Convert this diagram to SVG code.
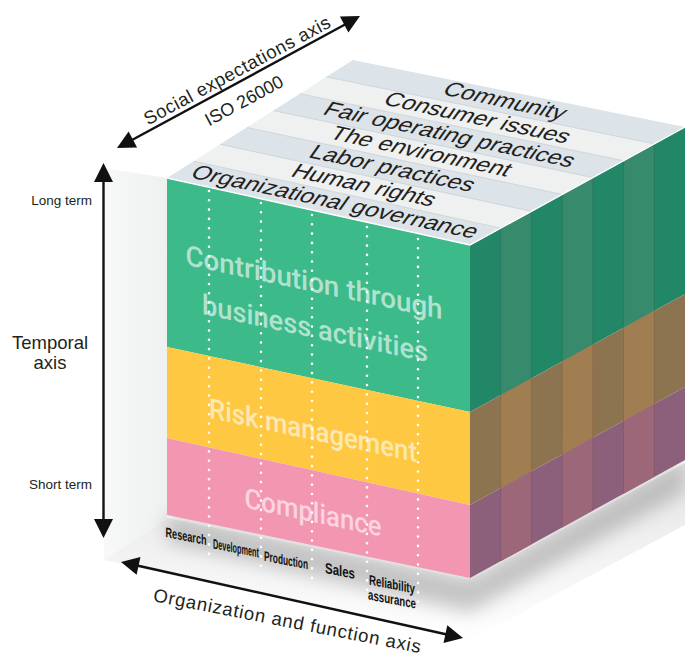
<svg xmlns="http://www.w3.org/2000/svg" width="685" height="656" viewBox="0 0 685 656">
<defs>
<style>
.ax{stroke:#111;stroke-width:2.4;fill:none}
.ah{fill:#111}
.lbl{font-family:"Liberation Sans",Arial,sans-serif;fill:#231f20}
.top{font-family:"Liberation Sans",Arial,sans-serif;font-size:18px;fill:#231f20;text-anchor:middle}
.big{font-family:Roboto,"Liberation Sans",sans-serif;font-weight:500;font-size:28px;fill:#fff;fill-opacity:0.6;text-anchor:middle}
.fl{font-family:"Liberation Sans",Arial,sans-serif;font-size:14px;font-weight:bold;fill:#111;text-anchor:middle}
.dots{stroke:#fff;stroke-width:2.6;stroke-linecap:round;stroke-dasharray:0 9.3;fill:none}
.s1{fill:#dde4e9}.s2{fill:#eff0f0}
.sep{stroke:#c3cace;stroke-width:0.7;fill:none}
</style>
<linearGradient id="floorG" x1="0" y1="0" x2="0" y2="1">
<stop offset="0" stop-color="#e4e4e4"/><stop offset="1" stop-color="#ffffff"/>
</linearGradient>
<linearGradient id="wallG" x1="0" y1="0" x2="1" y2="0">
<stop offset="0" stop-color="#f7f8f8"/><stop offset="1" stop-color="#eff1f1"/>
</linearGradient>
<filter id="blur" x="-20%" y="-50%" width="140%" height="200%"><feGaussianBlur stdDeviation="9"/></filter>
</defs>

<g id="backdrop">
<polygon points="104,168 167,178 167,518 104,560" fill="url(#wallG)"/>
<polygon points="104,560 167,518 470,580 685,463 685,525 470,640" fill="url(#floorG)"/>
<polygon points="167,515 470,578 685,460 685,492 470,612 167,542" fill="#9a9a9a" opacity="0.55" filter="url(#blur)"/>
</g>

<g id="front-face">
<g id="band-contribution"><polygon points="167,178 470,245 470,412 167,347" fill="#3dba8a"/></g>
<g id="band-risk"><polygon points="167,347 470,412 470,505 167,438" fill="#fec843"/></g>
<g id="band-compliance"><polygon points="167,438 470,505 470,578 167,515" fill="#f396b1"/></g>
</g>

<g id="side-face">
<polygon points="470,245 685,127 685,294 470,412" fill="#228767"/>
<polygon points="470,412 685,294 685,387 470,505" fill="#8d7450"/>
<polygon points="470,505 685,387 685,460 470,578" fill="#8c5f7a"/>
<g fill="#378b6c">
<polygon points="500.71,228.14 531.43,211.29 531.43,378.29 500.71,395.14"/>
<polygon points="562.14,194.43 592.86,177.57 592.86,344.57 562.14,361.43"/>
<polygon points="623.57,160.71 654.29,143.86 654.29,310.86 623.57,327.71"/>
</g>
<g fill="#a17d52">
<polygon points="500.71,395.14 531.43,378.29 531.43,471.29 500.71,488.14"/>
<polygon points="562.14,361.43 592.86,344.57 592.86,437.57 562.14,454.43"/>
<polygon points="623.57,327.71 654.29,310.86 654.29,403.86 623.57,420.71"/>
</g>
<g fill="#9d677a">
<polygon points="500.71,488.14 531.43,471.29 531.43,544.29 500.71,561.14"/>
<polygon points="562.14,454.43 592.86,437.57 592.86,510.57 562.14,527.43"/>
<polygon points="623.57,420.71 654.29,403.86 654.29,476.86 623.57,493.71"/>
</g>
<g stroke="#000" stroke-opacity="0.12" stroke-width="0.8">
<line x1="500.71" y1="228.14" x2="500.71" y2="561.14"/>
<line x1="531.43" y1="211.29" x2="531.43" y2="544.29"/>
<line x1="562.14" y1="194.43" x2="562.14" y2="527.43"/>
<line x1="592.86" y1="177.57" x2="592.86" y2="510.57"/>
<line x1="623.57" y1="160.71" x2="623.57" y2="493.71"/>
<line x1="654.29" y1="143.86" x2="654.29" y2="476.86"/>
</g>
</g>

<g id="top-face">
<polygon class="s1" points="167,178 470,245 500.71,228.14 193.57,161.14"/>
<polygon class="s2" points="193.57,161.14 500.71,228.14 531.43,211.29 220.14,144.29"/>
<polygon class="s1" points="220.14,144.29 531.43,211.29 562.14,194.43 246.71,127.43"/>
<polygon class="s2" points="246.71,127.43 562.14,194.43 592.86,177.57 273.29,110.57"/>
<polygon class="s1" points="273.29,110.57 592.86,177.57 623.57,160.71 299.86,93.71"/>
<polygon class="s2" points="299.86,93.71 623.57,160.71 654.29,143.86 326.43,76.86"/>
<polygon class="s1" points="326.43,76.86 654.29,143.86 685,127 353,60"/>
<g class="sep">
<line x1="193.57" y1="161.14" x2="500.71" y2="228.14"/>
<line x1="220.14" y1="144.29" x2="531.43" y2="211.29"/>
<line x1="246.71" y1="127.43" x2="562.14" y2="194.43"/>
<line x1="273.29" y1="110.57" x2="592.86" y2="177.57"/>
<line x1="299.86" y1="93.71" x2="623.57" y2="160.71"/>
<line x1="326.43" y1="76.86" x2="654.29" y2="143.86"/>
</g>
<polyline points="167,178 470,245 685,127" fill="none" stroke="#fff" stroke-width="1.3"/>
</g>

<g id="top-labels">
<g id="node-org-gov"><text class="top" transform="translate(331,208) matrix(1.32,0.285,-0.72,1.02,0,0)">Organizational governance</text></g>
<g id="node-human-rights"><text class="top" transform="translate(360,191.2) matrix(1.32,0.285,-0.72,1.02,0,0)">Human rights</text></g>
<g id="node-labor"><text class="top" transform="translate(388.5,174.4) matrix(1.32,0.285,-0.72,1.02,0,0)">Labor practices</text></g>
<g id="node-environment"><text class="top" transform="translate(417,157.5) matrix(1.32,0.285,-0.72,1.02,0,0)">The environment</text></g>
<g id="node-fair"><text class="top" transform="translate(445.5,140.7) matrix(1.32,0.285,-0.72,1.02,0,0)">Fair operating practices</text></g>
<g id="node-consumer"><text class="top" transform="translate(473.5,123.8) matrix(1.32,0.285,-0.72,1.02,0,0)">Consumer issues</text></g>
<g id="node-community"><text class="top" transform="translate(501,107) matrix(1.32,0.285,-0.72,1.02,0,0)">Community</text></g>
</g>

<g id="front-labels">
<text class="big" transform="translate(314,292) skewY(12)" textLength="257" lengthAdjust="spacingAndGlyphs">Contribution through</text>
<text class="big" transform="translate(315,338) skewY(12)" textLength="226" lengthAdjust="spacingAndGlyphs">business activities</text>
<text class="big" transform="translate(313,440) skewY(12)" textLength="208" lengthAdjust="spacingAndGlyphs">Risk management</text>
<text class="big" transform="translate(313,522) skewY(12)" textLength="137" lengthAdjust="spacingAndGlyphs">Compliance</text>
</g>

<g id="function-dividers">
<line class="dots" x1="209" y1="191" x2="209" y2="557"/>
<line class="dots" x1="261" y1="203" x2="261" y2="570"/>
<line class="dots" x1="312" y1="215" x2="312" y2="580"/>
<line class="dots" x1="367" y1="227" x2="367" y2="591"/>
<line class="dots" x1="418" y1="239" x2="418" y2="606"/>
</g>

<g id="function-labels">
<g id="node-research"><text class="fl" transform="translate(186,541) skewY(11)" textLength="41" lengthAdjust="spacingAndGlyphs">Research</text></g>
<g id="node-development"><text class="fl" transform="translate(236,553) skewY(11)" textLength="46" lengthAdjust="spacingAndGlyphs">Development</text></g>
<g id="node-production"><text class="fl" transform="translate(286,565) skewY(11)" textLength="44" lengthAdjust="spacingAndGlyphs">Production</text></g>
<g id="node-sales"><text class="fl" transform="translate(340,576) skewY(11)" textLength="30" lengthAdjust="spacingAndGlyphs" style="font-size:15px">Sales</text></g>
<g id="node-reliability"><text class="fl" transform="translate(392,589) skewY(11)" textLength="46" lengthAdjust="spacingAndGlyphs">Reliability</text>
<text class="fl" transform="translate(392,604) skewY(11)" textLength="48" lengthAdjust="spacingAndGlyphs">assurance</text></g>
</g>

<g id="connectors">
<line class="ax" x1="103.5" y1="178" x2="103.5" y2="523"/>
<polygon class="ah" points="103.5,163 94,182 113,182"/>
<polygon class="ah" points="103.5,538 94,519 113,519"/>
<line class="ax" x1="132" y1="140" x2="345" y2="24.5"/>
<polygon class="ah" points="117,148 137.1,147.4 128.6,131.6"/>
<polygon class="ah" points="360,16 348.4,32.4 339.9,16.6"/>
<line class="ax" x1="137" y1="565.5" x2="447" y2="634.5"/>
<polygon class="ah" points="121,562 136.6,574.7 140.5,557.1"/>
<polygon class="ah" points="463,638 443.5,642.9 447.3,625.3"/>
</g>

<g id="axis-labels">
<text class="lbl" x="92" y="205" text-anchor="end" font-size="13.5">Long term</text>
<text class="lbl" x="92" y="489" text-anchor="end" font-size="13.5">Short term</text>
<text class="lbl" x="50" y="349" text-anchor="middle" font-size="18.5">Temporal</text>
<text class="lbl" x="50" y="369" text-anchor="middle" font-size="18.5">axis</text>
<text class="lbl" transform="translate(240,76) rotate(-28.3)" text-anchor="middle" font-size="18.5" textLength="209">Social expectations axis</text>
<text class="lbl" transform="translate(247,106) rotate(-28.3)" text-anchor="middle" font-size="18">ISO 26000</text>
<text class="lbl" transform="translate(286,627) rotate(11)" text-anchor="middle" font-size="18.5" textLength="272">Organization and function axis</text>
</g>
</svg>
